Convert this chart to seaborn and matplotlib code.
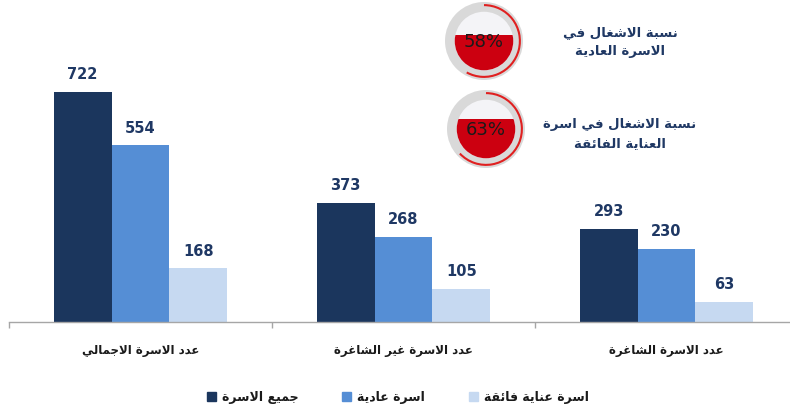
import matplotlib
matplotlib.use("Agg")
import matplotlib.pyplot as plt
import seaborn as sns
import pandas as pd
from matplotlib.patches import Circle, Rectangle, Arc

# data
categories = ['عدد الاسرة الاجمالي', 'عدد الاسرة غير الشاغرة', 'عدد الاسرة الشاغرة']
series = ['جميع الاسرة', 'اسرة عادية', 'اسرة عناية فائقة']
all_beds = [722, 373, 293]
normal_beds = [554, 268, 230]
icu_beds = [168, 105, 63]

occupancy = [58, 63]
occupancy_labels = ['نسبة الاشغال في\nالاسرة العادية', 'نسبة الاشغال في اسرة\nالعناية الفائقة']

colors = ['#1B365D', '#558ED5', '#C6D9F1']
navy = '#1F3864'

# matplotlib has no arabic shaping, so map letters to presentation forms
FORMS = {'ء': (0xFE80, 1), 'آ': (0xFE81, 2), 'أ': (0xFE83, 2), 'ؤ': (0xFE85, 2),
         'إ': (0xFE87, 2), 'ئ': (0xFE89, 4), 'ا': (0xFE8D, 2), 'ب': (0xFE8F, 4),
         'ة': (0xFE93, 2), 'ت': (0xFE95, 4), 'ث': (0xFE99, 4), 'ج': (0xFE9D, 4),
         'ح': (0xFEA1, 4), 'خ': (0xFEA5, 4), 'د': (0xFEA9, 2), 'ذ': (0xFEAB, 2),
         'ر': (0xFEAD, 2), 'ز': (0xFEAF, 2), 'س': (0xFEB1, 4), 'ش': (0xFEB5, 4),
         'ص': (0xFEB9, 4), 'ض': (0xFEBD, 4), 'ط': (0xFEC1, 4), 'ظ': (0xFEC5, 4),
         'ع': (0xFEC9, 4), 'غ': (0xFECD, 4), 'ف': (0xFED1, 4), 'ق': (0xFED5, 4),
         'ك': (0xFED9, 4), 'ل': (0xFEDD, 4), 'م': (0xFEE1, 4), 'ن': (0xFEE5, 4),
         'ه': (0xFEE9, 4), 'و': (0xFEED, 2), 'ى': (0xFEEF, 2), 'ي': (0xFEF1, 4)}
LAM_ALEF = {'ا': 0xFEFB, 'أ': 0xFEF7, 'إ': 0xFEF9, 'آ': 0xFEF5}


def shape_line(line):
    toks = []
    i = 0
    while i < len(line):
        c = line[i]
        if c == 'ل' and i + 1 < len(line) and line[i + 1] in LAM_ALEF:
            toks.append((LAM_ALEF[line[i + 1]], 2))
            i += 2
        elif c in FORMS:
            toks.append(FORMS[c])
            i += 1
        else:
            toks.append(c)
            i += 1
    out = []
    for k, t in enumerate(toks):
        if isinstance(t, str):
            out.append(t)
            continue
        base, n = t
        prev = toks[k - 1] if k > 0 else None
        nxt = toks[k + 1] if k + 1 < len(toks) else None
        join_prev = n > 1 and isinstance(prev, tuple) and prev[1] == 4
        join_next = n == 4 and isinstance(nxt, tuple) and nxt[1] > 1
        if join_prev and join_next:
            off = 3
        elif join_prev:
            off = 1
        elif join_next:
            off = 2
        else:
            off = 0
        out.append(chr(base + off))
    return ''.join(reversed(out))


def ar(text):
    return '\n'.join(shape_line(l) for l in text.split('\n'))


df = pd.DataFrame({
    'category': [ar(c) for c in categories] * 3,
    'series': [ar(s) for s in series for _ in categories],
    'value': all_beds + normal_beds + icu_beds,
})

sns.set_style('white')
plt.rcParams['font.family'] = ['DejaVu Sans']

W, H = 790, 412
fig = plt.figure(figsize=(W / 100, H / 100), dpi=100)
ax = fig.add_axes([9 / W, (H - 322) / H, 789 / W, 322 / H])

sns.barplot(data=df, x='category', y='value', hue='series', palette=colors,
            width=0.66, saturation=1, edgecolor='none', ax=ax)

for cont in ax.containers:
    ax.bar_label(cont, padding=7, fontsize=10.5, fontweight='bold', color=navy)

ax.set_xlim(-0.5, 2.5)
ax.set_ylim(0, 1010)
ax.set_xlabel('')
ax.set_ylabel('')
ax.set_yticks([])
for s in ['left', 'right', 'top']:
    ax.spines[s].set_visible(False)
ax.spines['bottom'].set_color('#A6A6A6')
ax.spines['bottom'].set_linewidth(1)
ax.set_xticks([-0.5, 0.5, 1.5, 2.5], minor=True)
ax.tick_params(axis='x', which='minor', bottom=True, direction='out',
               length=4, color='#A6A6A6', width=1)
ax.tick_params(axis='x', which='major', length=0, pad=16, labelsize=8.5,
               labelcolor='#1a1a1a')
for t in ax.get_xticklabels():
    t.set_fontweight('bold')

ax.get_legend().remove()
handles = [Rectangle((0, 0), 1, 1, color=c) for c in colors]
fig.legend(handles, [ar(s) for s in series], loc='center',
           bbox_to_anchor=(398 / W, 1 - 397 / H), ncol=3, frameon=False,
           handlelength=0.7, handleheight=0.7, handletextpad=0.5,
           columnspacing=3.5, prop={'weight': 'bold', 'size': 9})
for t in fig.legends[0].get_texts():
    t.set_color('#1a1a1a')

# occupancy gauges
centers = [(484, 41), (486, 129)]
label_pos = [(620, 42), (620, 134)]
R = 39
for p, (cx, cy), lab, (lx, ly) in zip(occupancy, centers, occupancy_labels, label_pos):
    gax = fig.add_axes([(cx - R) / W, 1 - (cy + R) / H, 2 * R / W, 2 * R / H])
    gax.set_xlim(-1, 1)
    gax.set_ylim(-1, 1)
    gax.axis('off')
    gax.add_patch(Circle((0, 0), 1, color='#D9D9D9', lw=0))
    r_in = 0.75
    gax.add_patch(Circle((0, 0), r_in, color='#F4F4F7', lw=0))
    clip = Circle((0, 0), r_in, transform=gax.transData)
    level = -1 + 2 * p / 100
    fill = Rectangle((-1, -1), 2, level + 1, color='#CC0010', lw=0)
    gax.add_patch(fill)
    fill.set_clip_path(clip)
    gax.add_patch(Arc((0, 0), 1.84, 1.84, theta1=90 - 3.6 * p, theta2=90,
                      color='#E02020', lw=1.5))
    gax.text(0, -0.02, f'{p}%', ha='center', va='center', fontsize=13,
             color='#1a1a1a')
    fig.text(lx / W, 1 - ly / H, ar(lab), ha='center', va='center',
             multialignment='center', fontsize=9.5, fontweight='bold',
             color=navy, linespacing=1.6)

fig.savefig('out.png', dpi=100)
